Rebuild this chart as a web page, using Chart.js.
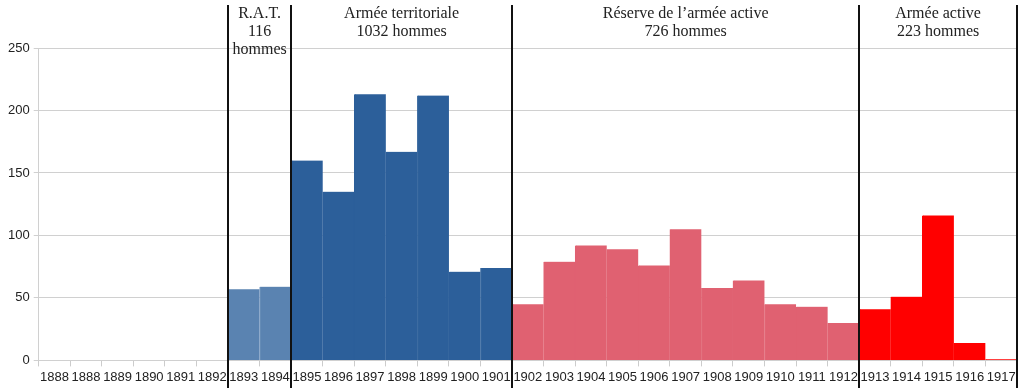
<!DOCTYPE html>
<html><head><meta charset="utf-8">
<script src="https://cdn.jsdelivr.net/npm/chart.js@4/dist/chart.umd.min.js"></script>
<style>html,body{margin:0;padding:0;background:#fff}#wrap{width:1024px;height:388px;position:relative}</style>
</head><body><div id="wrap"><canvas id="c"></canvas></div>
<script>
const years = ["1888","1888","1889","1890","1891","1892","1893","1894","1895","1896","1897","1898","1899","1900","1901","1902","1903","1904","1905","1906","1907","1908","1909","1910","1911","1912","1913","1914","1915","1916","1917"];
const counts = [0,0,0,0,0,0,57,59,160,135,213,167,212,71,74,45,79,92,89,76,105,58,64,45,43,30,41,51,116,14,1];
const groupNames = ["R.A.T.","Armée territoriale","Réserve de l\u2019armée active","Armée active"];
const groupTotals = ["116","1032 hommes","726 hommes","223 hommes"];
const groupStart = [6,8,15,26];
const groupEnd = [7,14,25,30];
const groupColors = ["#5a83b1","#2c5f9a","#e06171","#ff0000"];
const groupBorders = ["#7d9dc4","#2c5f9a","#e06171","#ff0000"];

function groupOf(i){for(let g=0;g<groupStart.length;g++){if(i>=groupStart[g]&&i<=groupEnd[g])return g;}return -1;}

const groupsPlugin = {
  id:'groups',
  afterDatasetsDraw(chart){
    const ctx=chart.ctx, x=chart.scales.x;
    ctx.save();
    ctx.strokeStyle='#111'; ctx.lineWidth=2;
    const bounds=[groupStart[0]-0.5].concat(groupEnd.map(e=>e+0.5));
    bounds.forEach(b=>{const px=Math.round(x.getPixelForValue(b));ctx.beginPath();ctx.moveTo(px,5);ctx.lineTo(px,388);ctx.stroke();});
    ctx.fillStyle='#222'; ctx.textAlign='center'; ctx.textBaseline='middle';
    ctx.font='16px "Liberation Serif", serif';
    for(let g=0;g<groupNames.length;g++){
      const cx=(x.getPixelForValue(groupStart[g]-0.5)+x.getPixelForValue(groupEnd[g]+0.5))/2;
      ctx.fillText(groupNames[g],cx,14);
      ctx.fillText(groupTotals[g],cx,32);
      if(g===0) ctx.fillText("hommes",cx,50);
    }
    ctx.restore();
  }
};

new Chart(document.getElementById('c'),{
  type:'bar',
  data:{labels:years,datasets:[{
    data:counts,
    backgroundColor:counts.map((v,i)=>{const g=groupOf(i);return g<0?'#ffffff':groupColors[g];}),
    borderColor:counts.map((v,i)=>{const g=groupOf(i);return g<0?'#ffffff':groupBorders[g];}),
    borderWidth:{left:1,right:0,top:0,bottom:0},
    borderSkipped:false,
    barPercentage:1.0, categoryPercentage:1.0
  }]},
  options:{
    responsive:true, maintainAspectRatio:false, animation:false,
    layout:{padding:{top:48,right:7,left:4,bottom:0}},
    plugins:{legend:{display:false},tooltip:{enabled:false}},
    scales:{
      x:{
        grid:{display:true,drawOnChartArea:false,offset:true,tickLength:6,color:'#cccccc'},
        border:{display:false},
        ticks:{autoSkip:false,maxRotation:0,minRotation:0,padding:3,color:'#222',font:{family:'"Liberation Sans", Arial, sans-serif',size:13}}
      },
      y:{
        min:0,max:250,
        ticks:{stepSize:50,padding:4,color:'#222',font:{family:'"Liberation Sans", Arial, sans-serif',size:13}},
        grid:{color:'#d0d0d0',tickLength:5},
        border:{display:true,color:'#d0d0d0'}
      }
    }
  },
  plugins:[groupsPlugin]
});
</script></body></html>
